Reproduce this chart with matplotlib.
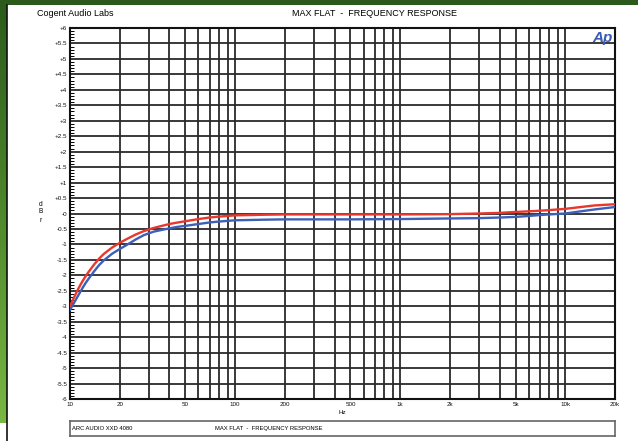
import numpy as np
import matplotlib.pyplot as plt
from matplotlib.patches import Rectangle
from matplotlib.colors import LinearSegmentedColormap
from matplotlib.ticker import FixedLocator, NullFormatter

plt.rcParams['font.family'] = ['Liberation Sans', 'DejaVu Sans']

# Frequency response, dBr vs Hz
freq = [10, 10.5, 11, 11.5, 12, 12.5, 13, 14, 15, 16, 18, 20, 22, 25, 28, 32,
        36, 40, 45, 50, 60, 70, 80, 100, 150, 200, 500, 1000, 2000, 3000,
        4000, 5000, 6000, 7000, 8000, 10000, 12000, 15000, 20000]
red_db = [-3.00, -2.75, -2.53, -2.33, -2.16, -2.01, -1.88, -1.65, -1.46, -1.31,
          -1.10, -0.95, -0.83, -0.68, -0.57, -0.47, -0.40, -0.34, -0.29, -0.25,
          -0.18, -0.13, -0.10, -0.06, -0.04, -0.03, -0.03, -0.03, -0.02, 0.00,
          0.02, 0.05, 0.07, 0.09, 0.11, 0.15, 0.20, 0.26, 0.30]
blue_db = [-3.12, -2.92, -2.73, -2.55, -2.38, -2.23, -2.10, -1.87, -1.67, -1.52,
           -1.30, -1.15, -1.02, -0.84, -0.70, -0.59, -0.53, -0.48, -0.43, -0.40,
           -0.34, -0.29, -0.26, -0.22, -0.20, -0.19, -0.19, -0.18, -0.16, -0.15,
           -0.13, -0.11, -0.08, -0.05, -0.03, 0.00, 0.06, 0.13, 0.21]

x_ticks = [10, 20, 50, 100, 200, 500, 1000, 2000, 5000, 10000, 20000]
x_labels = ['10', '20', '50', '100', '200', '500', '1k', '2k', '5k', '10k', '20k']
y_ticks = np.arange(-6, 6.01, 0.5)


def y_label(v):
    if abs(v) < 1e-9:
        return '-0'
    return ('+' if v > 0 else '-') + ('%g' % abs(v))


W, H = 638, 441
fig = plt.figure(figsize=(W / 100, H / 100), dpi=100)

# green frame behind the white sheet
bg = fig.add_axes([0, 0, 1, 1])
grad = np.linspace(0, 1, 256).reshape(-1, 1)
green = LinearSegmentedColormap.from_list('g', ['#2b5a1c', '#4f8a2c', '#7dbb45'])
bg.imshow(grad, cmap=green, aspect='auto', extent=[0, 1, 0, 1], origin='upper')
bg.add_patch(Rectangle((7 / W, 0), 1, (H - 5) / H, facecolor='white', edgecolor='none'))
bg.add_patch(Rectangle((0, 0), 7 / W, (H - 423) / H, facecolor='white', edgecolor='none'))
bg.plot([7 / W, 7 / W], [0, (H - 5) / H], color='#111111', lw=1.2)
bg.set_xlim(0, 1)
bg.set_ylim(0, 1)
bg.axis('off')

ax = fig.add_axes([70 / W, (H - 399) / H, (615 - 70) / W, (399 - 28) / H])
ax.set_xscale('log')
ax.set_xlim(10, 20000)
ax.set_ylim(-6, 6)

# log grid: every 1..9 per decade
grid_x = [m * 10 ** d for d in range(1, 5) for m in range(1, 10) if m * 10 ** d <= 20000]
for gx in grid_x[1:]:
    ax.axvline(gx, color='#2a2a2a', lw=1.3, zorder=1)
for gy in y_ticks[1:-1]:
    ax.axhline(gy, color='#2a2a2a', lw=1.3, zorder=1)

ax.plot(freq, blue_db, color='#3d5fb8', lw=1.7, zorder=3)
ax.plot(freq, red_db, color='#e8372c', lw=1.7, zorder=4)

ax.xaxis.set_major_locator(FixedLocator(x_ticks))
ax.xaxis.set_minor_locator(FixedLocator([]))
ax.xaxis.set_minor_formatter(NullFormatter())
ax.set_xticklabels(x_labels)
ax.tick_params(axis='x', length=0, pad=2, labelsize=4.5, colors='#111111')

ax.yaxis.set_major_locator(FixedLocator(y_ticks))
ax.set_yticklabels([y_label(v) for v in y_ticks])
ax.yaxis.set_minor_locator(FixedLocator(np.arange(-6, 6.01, 0.1)))
ax.tick_params(axis='y', which='major', direction='in', length=0, pad=2,
               labelsize=4.5, colors='#111111')
ax.tick_params(axis='y', which='minor', direction='in', length=3, width=0.7)

for s in ax.spines.values():
    s.set_linewidth(1.5)
    s.set_color('#111111')

ax.text(0.995, 0.993, 'Ap', transform=ax.transAxes, ha='right', va='top',
        fontsize=11, fontweight='heavy', fontstyle='italic', color='#3b5cb4')

fig.text(37 / W, 1 - 14 / H, 'Cogent Audio Labs', fontsize=6.5, va='center', ha='left')
fig.text(292 / W, 1 - 14 / H, 'MAX FLAT  -  FREQUENCY RESPONSE', fontsize=6.5,
         va='center', ha='left')
fig.text(342 / W, 1 - 413 / H, 'Hz', fontsize=4.5, va='center', ha='center')
for i, ch in enumerate('dBr'):
    fig.text(41 / W, 1 - (204 + 8 * i) / H, ch, fontsize=4.8, va='center', ha='center')

# caption box under the plot
box = fig.add_axes([70 / W, (H - 436) / H, (615 - 70) / W, 15 / H])
box.set_xticks([])
box.set_yticks([])
for s in box.spines.values():
    s.set_color('#666666')
    s.set_linewidth(1.2)
box.text(2 / 545, 0.5, 'ARC AUDIO XXD 4080', fontsize=4.2, va='center', ha='left',
         transform=box.transAxes)
box.text(145 / 545, 0.5, 'MAX FLAT  -  FREQUENCY RESPONSE', fontsize=4.2, va='center',
         ha='left', transform=box.transAxes)

fig.savefig('out.png', dpi=100)
